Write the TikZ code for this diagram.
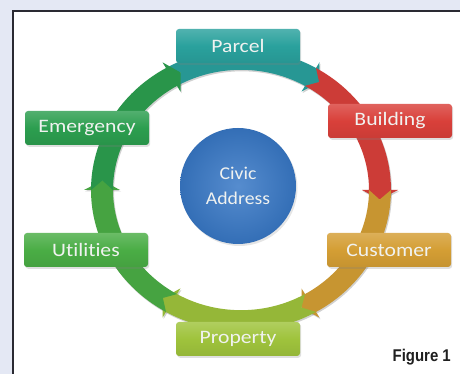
\documentclass[tikz,border=0pt]{standalone}
\usepackage{fontspec}
\newfontfamily\labfont[FakeStretch=1.14,Ligatures=NoCommon]{Carlito}
\newfontfamily\circfont[FakeStretch=1.1,Ligatures=NoCommon]{Carlito}
\newfontfamily\figfont[FakeStretch=0.88]{Liberation Sans}
\usetikzlibrary{shadows}
\definecolor{bgc}{HTML}{E4E8F4}
\definecolor{panelc}{HTML}{2A2A32}
\definecolor{parcelc}{HTML}{2AA19D}
\definecolor{buildc}{HTML}{D9403A}
\definecolor{custc}{HTML}{D49E34}
\definecolor{propc}{HTML}{9FC33C}
\definecolor{utilc}{HTML}{4AAD45}
\definecolor{emergc}{HTML}{2C9E4F}
\definecolor{bluec}{HTML}{3878C6}
\definecolor{labtext}{HTML}{F0F2F0}
\begin{document}
\begin{tikzpicture}[x=1pt,y=1pt,
  labbox/.style={rounded corners=3pt, minimum width=124pt, minimum height=34pt,
    inner sep=0pt, text=labtext, font=\labfont\fontsize{19}{20}\selectfont,
    top color=#1!82!white, bottom color=#1!93!black, middle color=#1,
    drop shadow={opacity=0.25, shadow xshift=1.2pt, shadow yshift=-1.8pt}},
  ringseg/.style={fill=#1!94!black}
]
\useasboundingbox (0,0) rectangle (460,374);
\fill[bgc] (0,0) rectangle (460,374);
\filldraw[fill=white, draw=panelc, line width=2pt] (13,-10) rectangle (480,362.5);
% ring
\begin{scope}[shift={(241,184)}, yscale=0.939]
  \foreach \a/\c in {120/parcelc, 60/buildc, 0/custc, -60/propc, -120/utilc, 180/emergc} {
    \pgfmathsetmacro\b{\a-60}
    \pgfmathsetmacro\t{\a-60-4.2}
    \pgfmathsetmacro\n{\a-4.2}
    \fill[black, opacity=0.18, shift={(1pt,-1.6pt)}] (\a:150pt) arc[start angle=\a, end angle=\b, radius=150pt]
      -- (\b:157pt) -- (\t:139pt) -- (\b:121pt) -- (\b:128pt)
      arc[start angle=\b, end angle=\a, radius=128pt] -- (\n:139pt) -- cycle;
  }
  \foreach \a/\c in {120/parcelc, 60/buildc, 0/custc, -60/propc, -120/utilc, 180/emergc} {
    \pgfmathsetmacro\b{\a-60}
    \pgfmathsetmacro\t{\a-60-4.2}
    \pgfmathsetmacro\n{\a-4.2}
    \fill[ringseg=\c] (\a:150pt) arc[start angle=\a, end angle=\b, radius=150pt]
      -- (\b:157pt) -- (\t:139pt) -- (\b:121pt) -- (\b:128pt)
      arc[start angle=\b, end angle=\a, radius=128pt] -- (\n:139pt) -- cycle;
  }
\end{scope}
% centre
\node[circle, minimum size=116pt, inner sep=0pt, align=center,
  inner color=bluec!85!white, outer color=bluec!92!black,
  drop shadow={opacity=0.2, shadow xshift=1.5pt, shadow yshift=-2pt},
  text=labtext, font=\circfont\fontsize{18}{25}\selectfont] (civic) at (238,188) {Civic\\Address};
% boxes
\node[labbox=parcelc] (parcel) at (238,328) {Parcel};
\node[labbox=buildc] (building) at (390,253) {Building};
\node[labbox=custc] (customer) at (389,124) {Customer};
\node[labbox=propc] (property) at (238,35) {Property};
\node[labbox=utilc] (utilities) at (86,124) {Utilities};
\node[labbox=emergc] (emergency) at (87,246) {Emergency};
% caption
\node[anchor=base east, inner sep=0pt, text=black!88,
  font=\figfont\bfseries\fontsize{17}{18}\selectfont] (fig) at (451,12) {Figure 1};
\end{tikzpicture}
\end{document}
